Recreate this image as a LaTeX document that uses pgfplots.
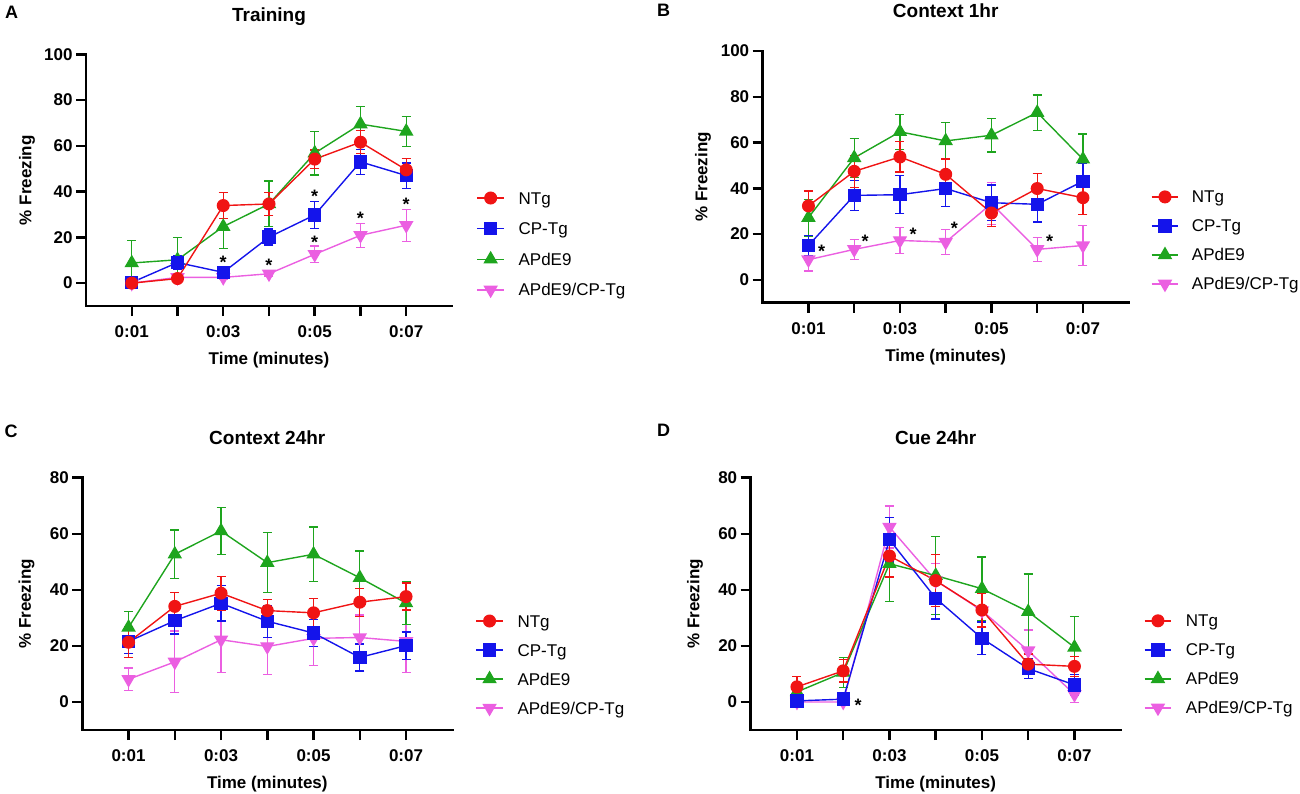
\documentclass[border=0pt]{standalone}
\usepackage{pgfplots}
\pgfplotsset{compat=1.18}
\usepackage{fontspec}
\setmainfont{Liberation Sans}
\definecolor{cR}{RGB}{240,20,20}
\definecolor{cB}{RGB}{20,20,235}
\definecolor{cG}{RGB}{30,165,30}
\definecolor{cM}{RGB}{235,95,225}
\newcommand{\fs}{\fontsize{17pt}{20pt}\selectfont}
\pgfplotsset{
 panel/.style={
   scale only axis, xmin=0, xmax=8, ymin=-10,
   axis lines=left, axis line style={-, line width=2.5pt, line cap=rect, black},
   xtick={1,...,7}, xticklabels={0:01,,0:03,,0:05,,0:07},
   tick align=outside, major tick length=10pt,
   tick style={black, line width=2.5pt},
   tick label style={font=\bfseries\fs},
   xticklabel style={yshift=-6.5pt},
   /pgf/number format/assume math mode=true,
   xlabel={Time (minutes)}, ylabel={\% Freezing},
   every axis x label/.style={at={(axis description cs:0.5,0)}, anchor=center, yshift=-54pt, font=\bfseries\fs},
   every axis title/.style={at={(axis description cs:0.5,1)}, anchor=center, yshift=40pt,
      font=\bfseries\fontsize{19pt}{22pt}\selectfont, text height=13.7pt, text depth=0pt},
   clip=false,
   legend cell align=left, reverse legend,
   legend image code/.code={\draw[mark repeat=2,mark phase=2,#1] plot coordinates {(0pt,0pt) (13.25pt,0pt) (26.5pt,0pt)};},
   legend style={draw=none, fill=none, inner sep=0pt, outer sep=0pt, anchor=west, font=\fs, column sep=14pt, row sep=15pt,
      nodes={inner sep=0pt, text height=13pt, text depth=1pt}},
 },
 ylab/.style={every axis y label/.style={at={(axis description cs:0,0.5)}, xshift=-#1pt, rotate=90, anchor=center, font=\bfseries\fs}},
 sN/.style={color=cR, line width=1.4pt, mark=*, mark size=5.8pt, mark options={solid},
   error bars/.cd, y dir=both, y explicit, error bar style={line width=1.3pt}, error mark options={rotate=90, mark size=4.5pt, line width=1.3pt}},
 sC/.style={color=cB, line width=1.4pt, mark=square*, mark size=6pt, mark options={solid},
   error bars/.cd, y dir=both, y explicit, error bar style={line width=1.3pt}, error mark options={rotate=90, mark size=4.5pt, line width=1.3pt}},
 sA/.style={color=cG, line width=1.4pt, mark=triangle*, mark size=7pt, mark options={solid},
   error bars/.cd, y dir=both, y explicit, error bar style={line width=1.3pt}, error mark options={rotate=90, mark size=4.5pt, line width=1.3pt}},
 sM/.style={color=cM, line width=1.4pt, mark=triangle*, mark size=7pt, mark options={solid, rotate=180},
   error bars/.cd, y dir=both, y explicit, error bar style={line width=1.3pt}, error mark options={rotate=90, mark size=4.5pt, line width=1.3pt}},
}
\newcommand{\sig}[2]{\node[font=\bfseries\fontsize{18pt}{20pt}\selectfont, anchor=base, yshift=-10.3pt] at (axis cs:#1,#2) {*};}
\begin{document}
\begin{tikzpicture}
\useasboundingbox (0pt,0pt) rectangle (1300pt,-793pt);
\node[font=\bfseries\fontsize{18pt}{21pt}\selectfont] at (11.7pt,-12.8pt) {A};
\node[font=\bfseries\fontsize{18pt}{21pt}\selectfont] at (663.5pt,-10.3pt) {B};
\node[font=\bfseries\fontsize{18pt}{21pt}\selectfont] at (11pt,-431.7pt) {C};
\node[font=\bfseries\fontsize{18pt}{21pt}\selectfont] at (663.5pt,-430.7pt) {D};
% ---------------- A
\begin{axis}[panel, ylab=59, at={(86pt,-306pt)}, anchor=south west, width=366pt, height=251.7pt,
  ymax=100, ytick={0,20,...,100}, title={Training},
  legend style={at={(axis description cs:1.0675,0.2467)}, row sep=16.6pt}]
\addplot[sM] coordinates {(1,0) +- (0,0.3) (2,2.5) +- (0,0.8) (3,2.5) +- (0,1.0) (4,4.1) +- (0,1.0) (5,12.6) +- (0,3.6) (6,20.9) +- (0,5.3) (7,25.3) +- (0,7.0)};
\addlegendentry{APdE9/CP-Tg}
\addplot[sA] coordinates {(1,8.8) +- (0,9.8) (2,10.2) +- (0,9.8) (3,24.7) +- (0,9.6) (4,34.6) +- (0,10.0) (5,56.8) +- (0,9.5) (6,69.5) +- (0,7.8) (7,66.3) +- (0,6.5)};
\addlegendentry{APdE9}
\addplot[sC] coordinates {(1,0.3) +- (0,0.3) (2,9.0) +- (0,3.0) (3,4.7) +- (0,1.5) (4,20.1) +- (0,3.5) (5,29.8) +- (0,5.9) (6,53.0) +- (0,5.5) (7,47.0) +- (0,5.5)};
\addlegendentry{CP-Tg}
\addplot[sN] coordinates {(1,0) +- (0,0.3) (2,2.0) +- (0,1.5) (3,33.9) +- (0,5.8) (4,34.6) +- (0,5.0) (5,54.2) +- (0,4.0) (6,61.6) +- (0,5.0) (7,49.5) +- (0,5.0)};
\addlegendentry{NTg}
\sig{3}{10.9}\sig{4}{9.8}\sig{5}{39.6}\sig{5}{19.7}\sig{6}{30.1}\sig{7}{36.4}
\end{axis}
% ---------------- B
\begin{axis}[panel, ylab=59.7, at={(762.7pt,-302.7pt)}, anchor=south west, width=366pt, height=251.7pt,
  ymax=100, ytick={0,20,...,100}, title={Context 1hr},
  legend style={at={(axis description cs:1.061,0.2475)}, column sep=13pt}]
\addplot[sM] coordinates {(1,8.8) +- (0,5.0) (2,13.3) +- (0,4.4) (3,17.2) +- (0,5.6) (4,16.5) +- (0,5.4) (5,33.3) +- (0,9.2) (6,13.3) +- (0,5.3) (7,15.0) +- (0,8.6)};
\addlegendentry{APdE9/CP-Tg}
\addplot[sA] coordinates {(1,27.2) +- (0,8.0) (2,53.3) +- (0,8.5) (3,64.7) +- (0,7.6) (4,60.7) +- (0,8.2) (5,63.2) +- (0,7.3) (6,73.1) +- (0,7.7) (7,52.7) +- (0,11.0)};
\addlegendentry{APdE9}
\addplot[sC] coordinates {(1,15.0) +- (0,4.5) (2,36.9) +- (0,6.5) (3,37.2) +- (0,8.3) (4,39.9) +- (0,8.0) (5,33.7) +- (0,7.8) (6,33.0) +- (0,7.7) (7,43.1) +- (0,8.0)};
\addlegendentry{CP-Tg}
\addplot[sN] coordinates {(1,32.3) +- (0,6.5) (2,47.4) +- (0,7.0) (3,53.7) +- (0,6.6) (4,46.1) +- (0,6.7) (5,29.2) +- (0,6.0) (6,39.9) +- (0,6.5) (7,35.9) +- (0,7.5)};
\addlegendentry{NTg}
\sig{1.29}{14.3}\sig{2.24}{18.7}\sig{3.29}{21.9}\sig{4.19}{24.2}\sig{6.27}{18.7}
\end{axis}
% ---------------- C
\begin{axis}[panel, ylab=55.7, at={(82.3pt,-730pt)}, anchor=south west, width=370pt, height=252.3pt,
  ymax=80, ytick={0,20,...,80}, title={Context 24hr},
  legend style={at={(axis description cs:1.063,0.2596)}}]
\addplot[sM] coordinates {(1,8.1) +- (0,4.0) (2,14.3) +- (0,11.0) (3,22.2) +- (0,11.7) (4,19.8) +- (0,10.0) (5,22.7) +- (0,9.8) (6,23.0) +- (0,8.0) (7,21.6) +- (0,11.0)};
\addlegendentry{APdE9/CP-Tg}
\addplot[sA] coordinates {(1,26.6) +- (0,5.7) (2,52.7) +- (0,8.7) (3,61.0) +- (0,8.4) (4,49.7) +- (0,10.7) (5,52.7) +- (0,9.7) (6,44.3) +- (0,9.6) (7,35.3) +- (0,7.6)};
\addlegendentry{APdE9}
\addplot[sC] coordinates {(1,21.6) +- (0,4.3) (2,29.0) +- (0,4.8) (3,35.2) +- (0,6.3) (4,28.8) +- (0,5.7) (5,24.6) +- (0,4.9) (6,15.9) +- (0,4.8) (7,20.1) +- (0,4.9)};
\addlegendentry{CP-Tg}
\addplot[sN] coordinates {(1,21.3) +- (0,5.5) (2,34.1) +- (0,5.0) (3,38.8) +- (0,6.0) (4,32.6) +- (0,4.0) (5,31.8) +- (0,5.2) (6,35.6) +- (0,5.0) (7,37.6) +- (0,4.8)};
\addlegendentry{NTg}
\end{axis}
% ---------------- D
\begin{axis}[panel, ylab=55.7, at={(750.7pt,-730pt)}, anchor=south west, width=370pt, height=252.3pt,
  ymax=80, ytick={0,20,...,80}, title={Cue 24hr},
  legend style={at={(axis description cs:1.063,0.2604)}}]
\addplot[sM] coordinates {(1,0) +- (0,0.3) (2,0) +- (0,0.3) (3,62.4) +- (0,7.5) (4,43.3) +- (0,6.0) (5,32.6) +- (0,6.0) (6,18.3) +- (0,7.4) (7,2.7) +- (0,3.0)};
\addlegendentry{APdE9/CP-Tg}
\addplot[sA] coordinates {(1,3.6) +- (0,2.0) (2,10.5) +- (0,5.4) (3,49.3) +- (0,13.4) (4,45.1) +- (0,14.0) (5,40.4) +- (0,11.3) (6,32.2) +- (0,13.5) (7,19.5) +- (0,11.0)};
\addlegendentry{APdE9}
\addplot[sC] coordinates {(1,0.4) +- (0,0.4) (2,1.0) +- (0,0.5) (3,57.9) +- (0,8.0) (4,37.0) +- (0,7.4) (5,22.7) +- (0,5.8) (6,11.9) +- (0,3.5) (7,6.1) +- (0,3.6)};
\addlegendentry{CP-Tg}
\addplot[sN] coordinates {(1,5.4) +- (0,3.6) (2,11.1) +- (0,4.0) (3,52.1) +- (0,7.5) (4,43.3) +- (0,9.3) (5,32.8) +- (0,6.0) (6,13.5) +- (0,3.6) (7,12.7) +- (0,3.5)};
\addlegendentry{NTg}
\sig{2.32}{0.4}
\end{axis}
\end{tikzpicture}
\end{document}
